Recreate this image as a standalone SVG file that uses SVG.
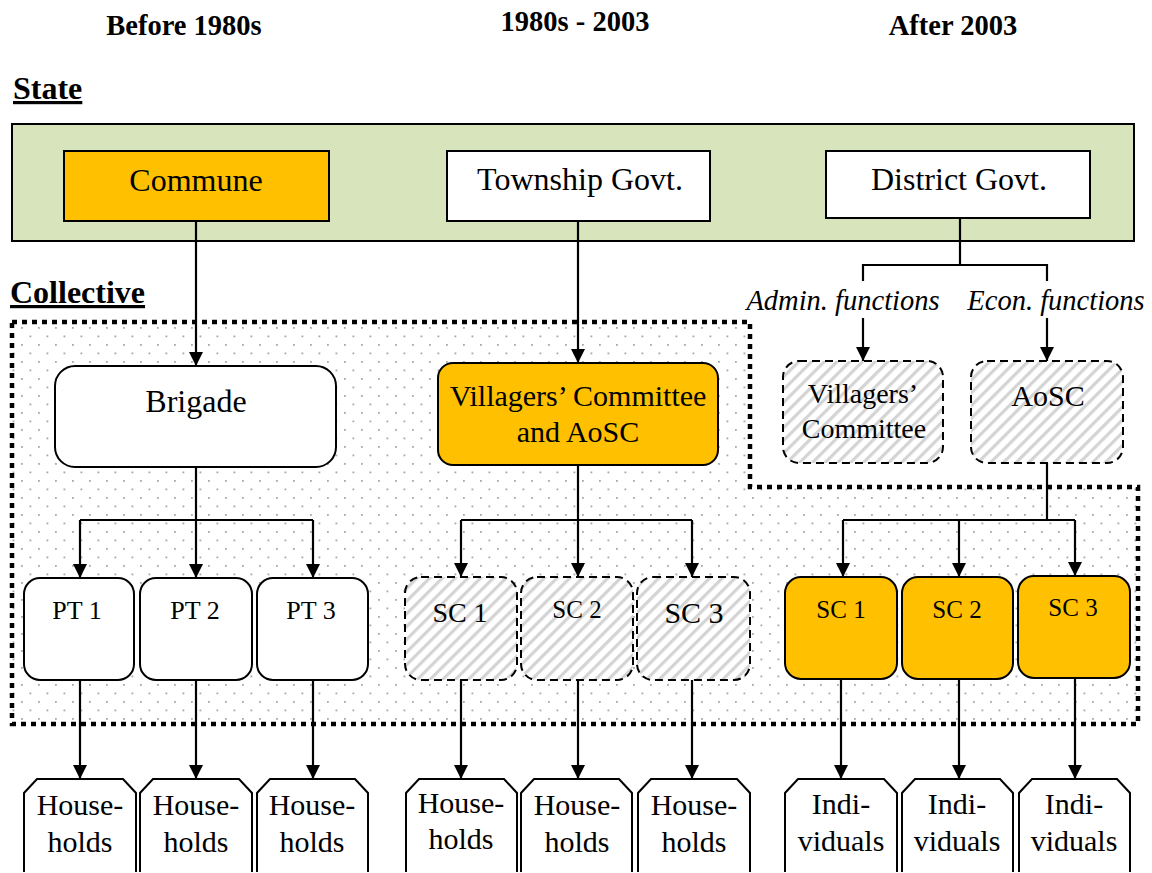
<svg xmlns="http://www.w3.org/2000/svg" width="1152" height="873" viewBox="0 0 1152 873">
<defs>
<pattern id="dots" width="17" height="17" patternUnits="userSpaceOnUse">
<rect width="17" height="17" fill="#fff"/>
<rect x="4" y="4" width="1.8" height="1.8" fill="#a8a8a8"/>
<rect x="12.5" y="12.5" width="1.8" height="1.8" fill="#a8a8a8"/>
</pattern>
<pattern id="hatch" width="9" height="9" patternUnits="userSpaceOnUse" patternTransform="rotate(45)">
<rect width="9" height="9" fill="#fff"/>
<rect x="0" y="0" width="3.2" height="9" fill="#d4d4d4"/>
</pattern>
<marker id="ah" markerWidth="14" markerHeight="14" viewBox="0 0 14 14" refX="14" refY="7" orient="auto" markerUnits="userSpaceOnUse">
<path d="M0,0 L14,7 L0,14 Z" fill="#000"/>
</marker>
</defs>
<style>
text{font-family:"Liberation Serif","Times New Roman",serif;fill:#000;text-anchor:middle}
.hd{font-weight:bold;font-size:28.5px}
.sec{font-weight:bold;font-size:32px;text-anchor:start;text-decoration:underline}
.t32{font-size:32px}
.t30{font-size:30px}
.t28{font-size:28px}
.t26{font-size:26px}
.t25{font-size:25px}
.it{font-style:italic;font-size:28.5px}
.box{stroke:#000;stroke-width:2}
.org{fill:#FFC000}
.wht{fill:#fff}
.dash{fill:url(#hatch);stroke:#000;stroke-width:2;stroke-dasharray:8,5}
.ln{fill:none;stroke:#000;stroke-width:2.2}
.arr{fill:none;stroke:#000;stroke-width:2.2;marker-end:url(#ah)}
.house{fill:#fff;stroke:#000;stroke-width:2}
</style>

<g id="headers">
<text class="hd" x="184" y="35">Before 1980s</text>
<text class="hd" x="575" y="31">1980s - 2003</text>
<text class="hd" x="953" y="35">After 2003</text>
<text class="sec" x="13" y="99">State</text>
</g>

<g id="state">
<rect x="12" y="124" width="1122" height="117" fill="#D8E4BC" stroke="#000" stroke-width="2"/>
</g>

<g id="collective-region">
<path d="M12,322 H750 V487 H1138 V724 H12 Z" fill="url(#dots)" stroke="#000" stroke-width="4.5" stroke-dasharray="5,5"/>
<text class="sec" x="10" y="303">Collective</text>
</g>

<g id="commune"><rect class="box org" x="64" y="151" width="265" height="70"/><text class="t32" x="196" y="191">Commune</text></g>
<g id="township"><rect class="box wht" x="447" y="151" width="263" height="70"/><text class="t32" x="580" y="190">Township Govt.</text></g>
<g id="district"><rect class="box wht" x="826" y="151" width="264" height="67"/><text class="t32" x="959" y="190">District Govt.</text></g>

<g id="brigade"><rect class="box wht" x="55" y="366" width="281" height="101" rx="20"/><text class="t32" x="196" y="412">Brigade</text></g>
<g id="vc-aosc"><rect class="box org" x="438" y="363" width="280" height="102" rx="15"/><text class="t30" x="578" y="406">Villagers’ Committee</text><text class="t30" x="578" y="442">and AoSC</text></g>
<g id="vc-right"><rect class="dash" x="783" y="361" width="160" height="102" rx="16"/><text class="t28" x="863" y="403">Villagers’</text><text class="t28" x="864" y="438">Committee</text></g>
<g id="aosc-right"><rect class="dash" x="971" y="361" width="152" height="102" rx="16"/><text class="t30" x="1048" y="406">AoSC</text></g>

<g id="pt1"><rect class="box wht" x="24" y="578" width="110" height="102" rx="16"/><text class="t26" x="77" y="619">PT 1</text></g>
<g id="pt2"><rect class="box wht" x="140" y="578" width="112" height="102" rx="16"/><text class="t26" x="195" y="619">PT 2</text></g>
<g id="pt3"><rect class="box wht" x="257" y="578" width="111" height="102" rx="16"/><text class="t26" x="311" y="619">PT 3</text></g>

<g id="sc1m"><rect class="dash" x="405" y="577" width="112" height="103" rx="16"/><text class="t28" x="460" y="622">SC 1</text></g>
<g id="sc2m"><rect class="dash" x="521" y="577" width="112" height="103" rx="16"/><text class="t25" x="577" y="618">SC 2</text></g>
<g id="sc3m"><rect class="dash" x="637" y="577" width="113" height="103" rx="16"/><text class="t30" x="694" y="623">SC 3</text></g>

<g id="sc1r"><rect class="box org" x="785" y="577" width="112" height="102" rx="16"/><text class="t25" x="841" y="618">SC 1</text></g>
<g id="sc2r"><rect class="box org" x="902" y="577" width="111" height="102" rx="16"/><text class="t25" x="957" y="618">SC 2</text></g>
<g id="sc3r"><rect class="box org" x="1018" y="576" width="112" height="102" rx="16"/><text class="t25" x="1073" y="616">SC 3</text></g>

<g id="hh1"><path class="house" d="M24,872 V793 L37,779 H123 L136,793 V872"/><text class="t30" x="80" y="815">House-</text><text class="t30" x="80" y="852">holds</text></g>
<g id="hh2"><path class="house" d="M140,872 V793 L153,779 H239 L252,793 V872"/><text class="t30" x="196" y="815">House-</text><text class="t30" x="196" y="852">holds</text></g>
<g id="hh3"><path class="house" d="M257,872 V793 L270,779 H355 L368,793 V872"/><text class="t30" x="312" y="815">House-</text><text class="t30" x="312" y="852">holds</text></g>
<g id="hh4"><path class="house" d="M406,872 V793 L419,779 H504 L517,793 V872"/><text class="t30" x="461" y="813">House-</text><text class="t30" x="461" y="849">holds</text></g>
<g id="hh5"><path class="house" d="M521,872 V793 L534,779 H619 L632,793 V872"/><text class="t30" x="577" y="815">House-</text><text class="t30" x="577" y="852">holds</text></g>
<g id="hh6"><path class="house" d="M638,872 V793 L651,779 H737 L750,793 V872"/><text class="t30" x="694" y="815">House-</text><text class="t30" x="694" y="852">holds</text></g>
<g id="ind1"><path class="house" d="M785,872 V793 L798,779 H884 L897,793 V872"/><text class="t30" x="841" y="814">Indi-</text><text class="t30" x="841" y="851">viduals</text></g>
<g id="ind2"><path class="house" d="M902,872 V793 L915,779 H1000 L1013,793 V872"/><text class="t30" x="957" y="814">Indi-</text><text class="t30" x="957" y="851">viduals</text></g>
<g id="ind3"><path class="house" d="M1019,872 V793 L1032,779 H1117 L1130,793 V872"/><text class="t30" x="1074" y="814">Indi-</text><text class="t30" x="1074" y="851">viduals</text></g>

<g id="labels">
<text class="it" x="843" y="310">Admin. functions</text>
<text class="it" x="1056" y="310">Econ. functions</text>
</g>

<g id="connectors">
<line class="arr" x1="196" y1="221" x2="196" y2="366"/>
<line class="arr" x1="578" y1="221" x2="578" y2="363"/>
<path class="ln" d="M960,218 V265 M863,281 V265 H1047 V281"/>
<line class="arr" x1="863" y1="318" x2="863" y2="361"/>
<line class="arr" x1="1047" y1="318" x2="1047" y2="361"/>

<path class="ln" d="M196,467 V520 M80,520 H313"/>
<line class="arr" x1="80" y1="520" x2="80" y2="578"/>
<line class="arr" x1="196" y1="520" x2="196" y2="578"/>
<line class="arr" x1="313" y1="520" x2="313" y2="578"/>

<path class="ln" d="M578,465 V520 M461,520 H692"/>
<line class="arr" x1="461" y1="520" x2="461" y2="577"/>
<line class="arr" x1="578" y1="520" x2="578" y2="577"/>
<line class="arr" x1="692" y1="520" x2="692" y2="577"/>

<path class="ln" d="M1047,463 V520 M843,520 H1075"/>
<line class="arr" x1="843" y1="520" x2="843" y2="577"/>
<line class="arr" x1="959" y1="520" x2="959" y2="577"/>
<line class="arr" x1="1075" y1="520" x2="1075" y2="576"/>

<line class="arr" x1="80" y1="680" x2="80" y2="779"/>
<line class="arr" x1="196" y1="680" x2="196" y2="779"/>
<line class="arr" x1="313" y1="680" x2="313" y2="779"/>
<line class="arr" x1="461" y1="680" x2="461" y2="779"/>
<line class="arr" x1="578" y1="680" x2="578" y2="779"/>
<line class="arr" x1="692" y1="680" x2="692" y2="779"/>
<line class="arr" x1="841" y1="679" x2="841" y2="779"/>
<line class="arr" x1="959" y1="679" x2="959" y2="779"/>
<line class="arr" x1="1075" y1="678" x2="1075" y2="779"/>
</g>
</svg>
